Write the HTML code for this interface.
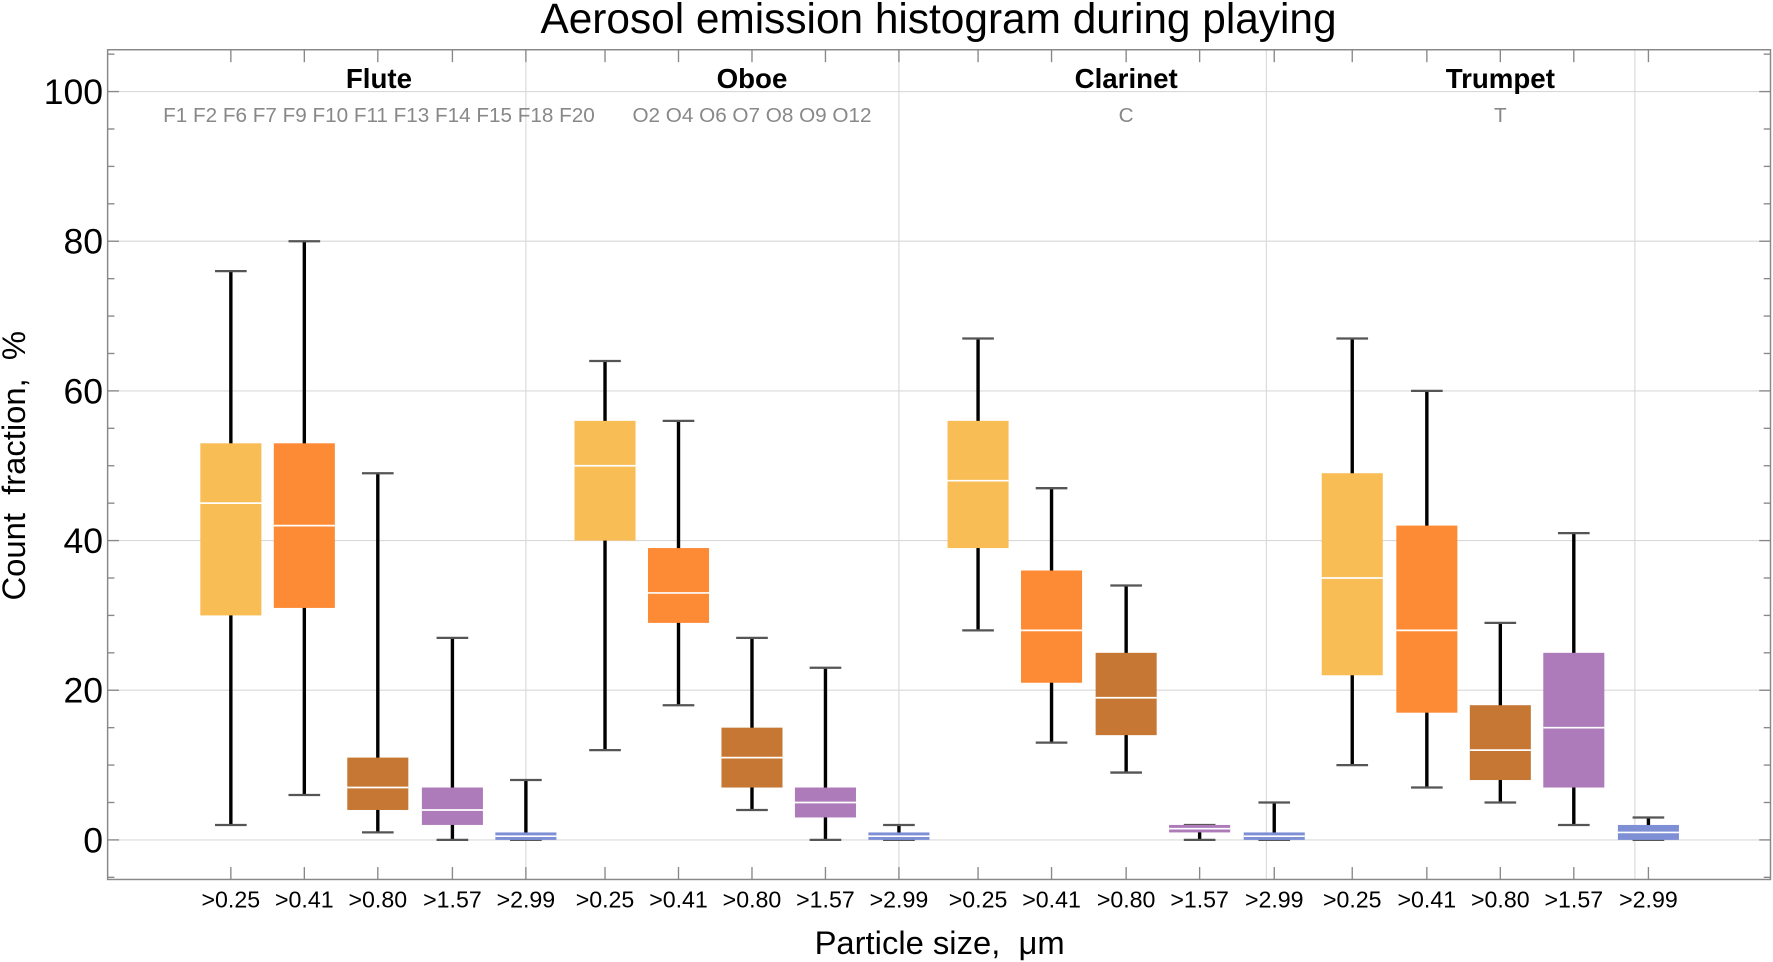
<!DOCTYPE html>
<html><head><style>html,body{margin:0;padding:0;background:#fff}svg{display:block}text{white-space:pre}</style></head>
<body>
<svg width="1773" height="962" viewBox="0 0 1568 851" xmlns="http://www.w3.org/2000/svg" font-family="Liberation Sans, sans-serif" xml:space="preserve">
<rect width="1568" height="851" fill="#fff"/>
<g id="grid" stroke="#d9d9d9" stroke-width="1"></g>
<g id="boxes"></g>
<rect x="95" y="44" width="1471" height="734" fill="none" stroke="#888" stroke-width="1.3"/>
<g id="ticks" stroke="#888" stroke-width="1.2"></g>
<g id="labels"></g>
<text x="830" y="29" font-size="37.5" text-anchor="middle">Aerosol emission histogram during playing</text>
<g font-size="24.5" font-weight="bold" text-anchor="middle">
<text x="335" y="78">Flute</text><text x="665" y="78">Oboe</text><text x="996" y="78">Clarinet</text><text x="1327" y="78">Trumpet</text></g>
<g font-size="18.3" fill="#888" text-anchor="middle">
<text x="335" y="108">F1 F2 F6 F7 F9 F10 F11 F13 F14 F15 F18 F20</text>
<text x="665" y="108">O2 O4 O6 O7 O8 O9 O12</text>
<text x="996" y="108">C</text><text x="1327" y="108">T</text></g>
<text x="831" y="844" font-size="29" text-anchor="middle">Particle size,  μm</text>
<text transform="translate(22,412) rotate(-90)" font-size="29" text-anchor="middle">Count  fraction,  %</text>
<script>
const Y=v=>743-v*6.62, NS="http://www.w3.org/2000/svg";
function el(p,t,a,txt){const e=document.createElementNS(NS,t);for(const k in a)e.setAttribute(k,a[k]);if(txt!==undefined)e.textContent=txt;document.getElementById(p).appendChild(e);}
for(let v=0;v<=100;v+=20){el('grid','line',{x1:95,x2:1566,y1:Y(v),y2:Y(v)});el('labels','text',{x:91,y:Y(v)+11,'font-size':31.5,'text-anchor':'end'},v);}
[465,795,1120,1446].forEach(x=>el('grid','line',{x1:x,x2:x,y1:44,y2:778}));
for(let v=-5;v<=105;v+=5){if(Y(v)<44||Y(v)>778)continue;const L=v%20==0?10:6;el('ticks','line',{x1:95,x2:95+L,y1:Y(v),y2:Y(v)});el('ticks','line',{x1:1566,x2:1566-L,y1:Y(v),y2:Y(v)});}
const xs=[204,269,334,400,465,535,600,665,730,795,865,930,996,1061,1127,1196,1262,1327,1392,1458];
const cols=['#F9BD55','#FD8A35','#C57733','#AD7BB9','#7F8FD6'];
const names=['>0.25','>0.41','>0.80','>1.57','>2.99'];
const d=[[2,30,45,53,76],[6,31,42,53,80],[1,4,7,11,49],[0,2,4,7,27],[0,0,0.5,1,8],
[12,40,50,56,64],[18,29,33,39,56],[4,7,11,15,27],[0,3,5,7,23],[0,0,0.5,1,2],
[28,39,48,56,67],[13,21,28,36,47],[9,14,19,25,34],[0,1,1.5,2,2],[0,0,0.5,1,5],
[10,22,35,49,67],[7,17,28,42,60],[5,8,12,18,29],[2,7,15,25,41],[0,0,1,2,3]];
xs.forEach((x,i)=>{const [mn,q1,md,q3,mx]=d[i];
el('ticks','line',{x1:x,x2:x,y1:44,y2:55});el('ticks','line',{x1:x,x2:x,y1:778,y2:767});
el('labels','text',{x:x,y:803,'font-size':20.5,'text-anchor':'middle'},names[i%5]);
el('boxes','line',{x1:x,x2:x,y1:Y(mx),y2:Y(mn),stroke:'#000','stroke-width':3});
el('boxes','line',{x1:x-14,x2:x+14,y1:Y(mx),y2:Y(mx),stroke:'#555','stroke-width':2});
el('boxes','line',{x1:x-14,x2:x+14,y1:Y(mn),y2:Y(mn),stroke:'#555','stroke-width':2});
el('boxes','rect',{x:x-27,y:Y(q3),width:54,height:Math.max(Y(q1)-Y(q3),5),fill:cols[i%5]});
el('boxes','line',{x1:x-27,x2:x+27,y1:Y(md),y2:Y(md),stroke:'#fff','stroke-width':1.5});
});
</script>
</svg>
</body></html>
